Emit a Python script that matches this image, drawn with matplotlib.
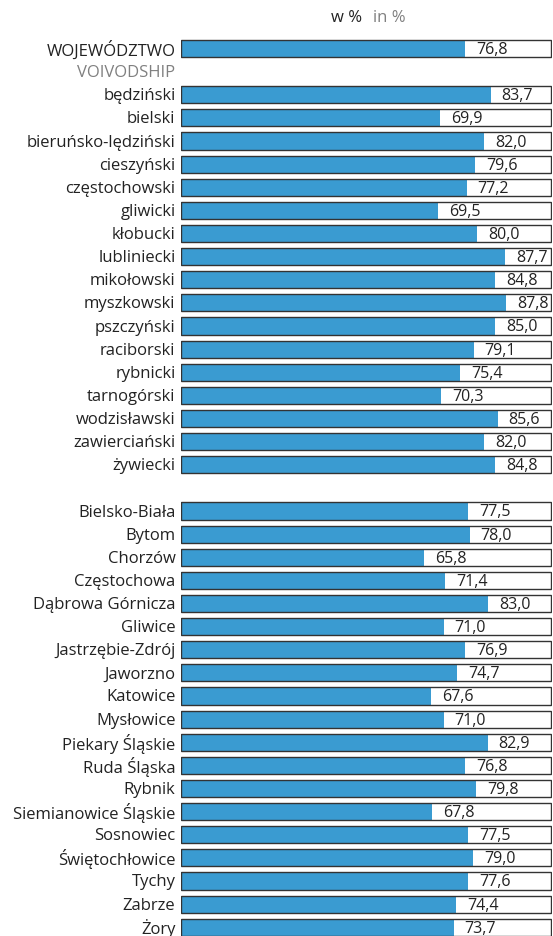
import matplotlib.pyplot as plt
import matplotlib.transforms as mtransforms

plt.rcParams['font.family'] = ['Open Sans', 'DejaVu Sans']

voiv_label = "WOJEWÓDZTWO"
voiv_label_en = "VOIVODSHIP"
voiv_value = 76.8

powiats = ["będziński", "bielski", "bieruńsko-lędziński", "cieszyński", "częstochowski",
           "gliwicki", "kłobucki", "lubliniecki", "mikołowski", "myszkowski", "pszczyński",
           "raciborski", "rybnicki", "tarnogórski", "wodzisławski", "zawierciański", "żywiecki"]
powiat_values = [83.7, 69.9, 82.0, 79.6, 77.2, 69.5, 80.0, 87.7, 84.8, 87.8, 85.0,
                 79.1, 75.4, 70.3, 85.6, 82.0, 84.8]

cities = ["Bielsko-Biała", "Bytom", "Chorzów", "Częstochowa", "Dąbrowa Górnicza", "Gliwice",
          "Jastrzębie-Zdrój", "Jaworzno", "Katowice", "Mysłowice", "Piekary Śląskie",
          "Ruda Śląska", "Rybnik", "Siemianowice Śląskie", "Sosnowiec", "Świętochłowice",
          "Tychy", "Zabrze", "Żory"]
city_values = [77.5, 78.0, 65.8, 71.4, 83.0, 71.0, 76.9, 74.7, 67.6, 71.0, 82.9,
               76.8, 79.8, 67.8, 77.5, 79.0, 77.6, 74.4, 73.7]

# row layout: voivodship, english label row, powiats, blank row, cities
labels = [voiv_label] + powiats + cities
values = [voiv_value] + powiat_values + city_values
rows = [0] + list(range(2, 2 + len(powiats))) + list(range(3 + len(powiats), 3 + len(powiats) + len(cities)))
n_rows = 3 + len(powiats) + len(cities)

blue = "#3a9bd1"
dark = "#222222"
grey = "#808080"

fig = plt.figure(figsize=(5.53, 9.37), dpi=100)
ax = fig.add_axes([181 / 553, 0.0, 371 / 553, 1 - 38 / 937])

h = 0.74
ax.barh(rows, values, height=h, color=blue, edgecolor="none", zorder=2)
ax.barh(rows, [100] * len(rows), height=h, facecolor="none", edgecolor="#333333",
        linewidth=1.0, zorder=3)

for r, v in zip(rows, values):
    ax.text(v + 3.0, r + 0.02, f"{v:.1f}".replace(".", ","), va="center", ha="left",
            fontsize=11.5, color=dark, zorder=4)

ax.set_xlim(0, 100.3)
ax.set_ylim(n_rows - 0.5 - 0.12, -0.5)

ax.set_yticks(rows + [1])
ax.set_yticklabels(labels + [voiv_label_en], fontsize=12, color=dark)
ax.get_yticklabels()[-1].set_color(grey)
ax.tick_params(axis="y", length=0, pad=4)
ax.set_xticks([])
for s in ax.spines.values():
    s.set_visible(False)

# nudge the row labels up a touch so descenders stay inside the figure
shift = mtransforms.ScaledTranslation(0, 1.5 / 100, fig.dpi_scale_trans)
for t in ax.get_yticklabels():
    t.set_transform(t.get_transform() + shift)

fig.text(362 / 553, 1 - 18 / 937, "w %", ha="right", va="center", fontsize=12, color=dark)
fig.text(373 / 553, 1 - 18 / 937, "in %", ha="left", va="center", fontsize=12, color=grey)

fig.savefig("out.png", dpi=100)
